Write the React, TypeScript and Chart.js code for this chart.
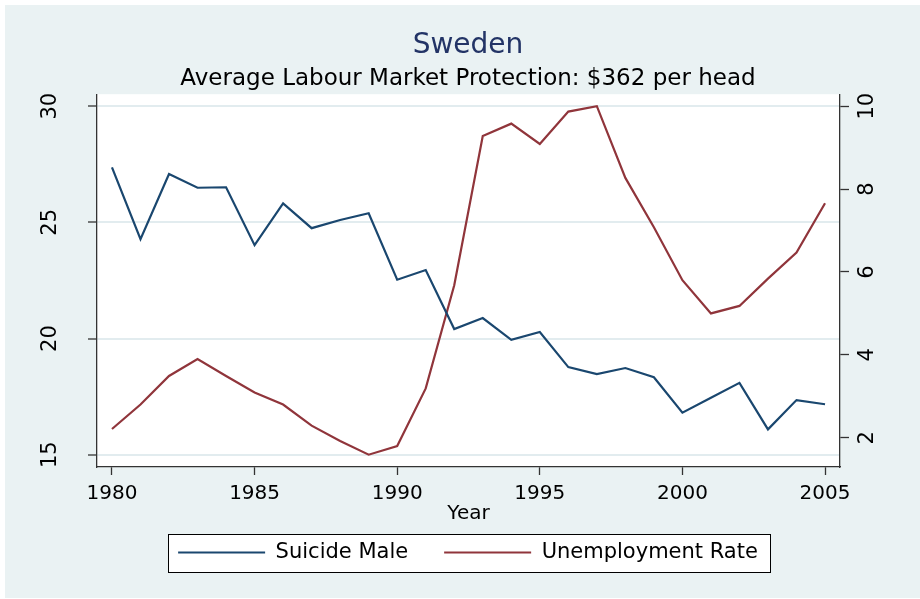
import React, { useEffect, useRef } from 'react';
import { Chart, registerables } from 'chart.js';

Chart.register(...registerables);

const years = [1980, 1981, 1982, 1983, 1984, 1985, 1986, 1987, 1988, 1989, 1990, 1991, 1992, 1993, 1994, 1995, 1996, 1997, 1998, 1999, 2000, 2001, 2002, 2003, 2004, 2005];
const suicideMale = [27.37, 24.28, 27.08, 26.49, 26.51, 24.02, 25.82, 24.75, 25.1, 25.39, 22.53, 22.95, 20.41, 20.88, 19.94, 20.28, 18.77, 18.47, 18.73, 18.33, 16.81, 17.45, 18.09, 16.09, 17.35, 17.17];
const unemploymentRate = [2.21, 2.8, 3.49, 3.9, 3.49, 3.09, 2.8, 2.29, 1.92, 1.59, 1.8, 3.19, 5.68, 9.28, 9.58, 9.09, 9.87, 10.0, 8.27, 7.08, 5.8, 5.0, 5.18, 5.84, 6.47, 7.66];
const xTicks = [1980, 1985, 1990, 1995, 2000, 2005];
const leftTicks = [15, 20, 25, 30];
const rightTicks = [2, 4, 6, 8, 10];

const FAMILY = "'DejaVu Sans', sans-serif";
const AXIS = '#333333';
const BG = '#EAF2F3';

const decor = {
  id: 'decor',
  beforeDraw(chart: any) {
    const { ctx, width, height, chartArea } = chart;
    ctx.save();
    ctx.fillStyle = '#ffffff';
    ctx.fillRect(0, 0, width, height);
    ctx.fillStyle = BG;
    ctx.fillRect(5, 5, width - 5, height - 6);
    ctx.fillStyle = '#ffffff';
    ctx.fillRect(chartArea.left, chartArea.top, chartArea.right - chartArea.left, chartArea.bottom - chartArea.top);
    const lg = chart.legend;
    const hb = lg && lg.legendHitBoxes;
    if (hb && hb.length) {
      const first = hb[0];
      const last = hb[hb.length - 1];
      const cy = first.top + first.height / 2;
      const l = Math.round(first.left - 10);
      const r = Math.round(last.left + last.width + 12);
      const t = Math.round(cy - 19);
      ctx.fillStyle = '#ffffff';
      ctx.fillRect(l, t, r - l, 38);
      ctx.strokeStyle = '#000000';
      ctx.lineWidth = 1;
      ctx.strokeRect(l + 0.5, t + 0.5, r - l, 38);
    }
    ctx.restore();
  },
};

export default function App() {
  const ref = useRef<HTMLCanvasElement | null>(null);
  useEffect(() => {
    if (!ref.current) return;
    const font = { family: FAMILY, size: 20 };
    const yFont = { family: FAMILY, size: 21 };
    const chart = new Chart(ref.current, {
      type: 'line',
      data: {
        datasets: [
          {
            label: 'Suicide Male',
            data: years.map((y, i) => ({ x: y, y: suicideMale[i] })),
            borderColor: '#1A476F',
            backgroundColor: '#1A476F',
            borderWidth: 2.2,
            pointRadius: 0,
            tension: 0,
            yAxisID: 'y',
          },
          {
            label: 'Unemployment Rate',
            data: years.map((y, i) => ({ x: y, y: unemploymentRate[i] })),
            borderColor: '#90353B',
            backgroundColor: '#90353B',
            borderWidth: 2.2,
            pointRadius: 0,
            tension: 0,
            yAxisID: 'y1',
          },
        ],
      },
      options: {
        animation: false,
        responsive: false,
        maintainAspectRatio: false,
        layout: { padding: { left: 16, right: 0, top: 0, bottom: 26 } },
        plugins: {
          title: {
            display: true,
            text: 'Sweden',
            color: '#233466',
            font: { family: FAMILY, size: 28, weight: 'normal' },
            padding: { top: 29, bottom: 0 },
          },
          subtitle: {
            display: true,
            text: 'Average Labour Market Protection: $362 per head',
            color: '#000000',
            font: { family: FAMILY, size: 23, weight: 'normal' },
            padding: { top: 3, bottom: 1 },
          },
          legend: {
            position: 'bottom',
            labels: {
              usePointStyle: true,
              pointStyle: 'line',
              pointStyleWidth: 87,
              padding: 36,
              color: '#000000',
              font: { family: FAMILY, size: 21 },
            },
          },
          tooltip: { enabled: false },
        },
        scales: {
          x: {
            type: 'linear',
            min: 1979.475,
            max: 2005.525,
            afterBuildTicks: (s: any) => {
              s.ticks = xTicks.map((v) => ({ value: v }));
            },
            afterFit: (s: any) => {
              s.height = 39;
            },
            ticks: {
              callback: (v: any) => String(v),
              color: '#000000',
              font,
              padding: 7,
              maxRotation: 0,
              autoSkip: false,
            },
            grid: { drawOnChartArea: false, tickLength: 8, tickColor: AXIS, tickWidth: 1.3 },
            border: { color: AXIS, width: 1.3 },
            title: {
              display: true,
              text: 'Year',
              color: '#000000',
              font,
              padding: { top: 0, bottom: -20 },
            },
          },
          y: {
            type: 'linear',
            position: 'left',
            min: 14.47,
            max: 30.516,
            afterBuildTicks: (s: any) => {
              s.ticks = leftTicks.map((v) => ({ value: v }));
            },
            afterFit: (s: any) => {
              s.width = 81;
            },
            ticks: {
              callback: (v: any) => String(v),
              color: '#000000',
              font: yFont,
              padding: 24,
              minRotation: 90,
              maxRotation: 90,
              crossAlign: 'center',
            },
            grid: { color: '#E2ECEF', lineWidth: 2, tickLength: 9, tickColor: AXIS, tickWidth: 1.3 },
            border: { color: AXIS, width: 1.3 },
          },
          y1: {
            type: 'linear',
            position: 'right',
            min: 1.293,
            max: 10.29,
            afterBuildTicks: (s: any) => {
              s.ticks = rightTicks.map((v) => ({ value: v }));
            },
            afterFit: (s: any) => {
              s.width = 80;
            },
            ticks: {
              callback: (v: any) => String(v),
              color: '#000000',
              font: yFont,
              padding: 5,
              minRotation: 90,
              maxRotation: 90,
              crossAlign: 'center',
            },
            grid: { drawOnChartArea: false, tickLength: 9, tickColor: AXIS, tickWidth: 1.3 },
            border: { color: AXIS, width: 1.3 },
          },
        },
      } as any,
      plugins: [decor],
    });
    return () => chart.destroy();
  }, []);

  return (
    <div style={{ position: 'fixed', left: 0, top: 0, width: 920, height: 599 }}>
      <canvas ref={ref} width={920} height={599} style={{ display: 'block' }} />
    </div>
  );
}
